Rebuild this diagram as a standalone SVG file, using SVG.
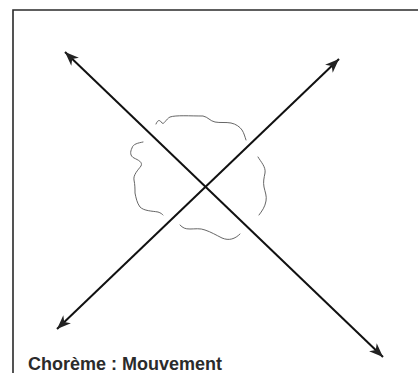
<svg xmlns="http://www.w3.org/2000/svg" width="418" height="383" viewBox="0 0 418 383">
<style>
.frame{fill:none;stroke:#2a2a2a;stroke-width:1.6}
.axis{fill:none;stroke:#111;stroke-width:2}
.blob{fill:none;stroke:#555;stroke-width:0.9;stroke-linecap:round}
.label{font-family:"Liberation Sans",Arial,sans-serif;font-weight:bold;font-size:18px;fill:#2b2b2b}
</style>
<defs>
<marker id="ah" markerUnits="userSpaceOnUse" viewBox="-15 -7 16 14" refX="0" refY="0" markerWidth="16" markerHeight="14" orient="auto-start-reverse">
<path d="M0,0 L-14,-5.5 L-10,0 L-14,5.5 Z" fill="#222"/>
</marker>
</defs>
<g id="frame">
<path class="frame" d="M13,373 V10 H418"/>
</g>
<g id="region">
<path class="blob" d="M156,124 C158,119 160,120 162,123 C164,125 166,119 170,117 C176,115 190,116 203,116 C208,117 210,121 215,122 C220,123 226,122 231,123 C236,124 240,127 242,130 C244,133 245,137 246,140"/>
<path class="blob" d="M143,142 C138,143 133,144 132,148 C130,152 130,156 134,158 C138,160 143,162 141,166 C138,170 133,175 134,180 C135,185 135,189 135,193 C136,198 137,203 140,207 C144,211 152,211 158,212 C161,213 162,214 163,215"/>
<path class="blob" d="M258,157 C261,162 266,167 265,173 C264,178 263,182 264,187 C265,192 267,196 266,201 C265,207 262,211 259,215"/>
<path class="blob" d="M180,225 C183,228 185,229 190,229 C195,229 200,228 205,230 C211,232 216,235 222,238 C229,241 235,239 240,234"/>
</g>
<g id="connectors">
<line class="axis" x1="65" y1="52" x2="383" y2="357" marker-start="url(#ah)" marker-end="url(#ah)"/>
<line class="axis" x1="57" y1="329" x2="339" y2="59" marker-start="url(#ah)" marker-end="url(#ah)"/>
</g>
<g id="title">
<text class="label" x="28" y="370">Chorème : Mouvement</text>
</g>
</svg>
